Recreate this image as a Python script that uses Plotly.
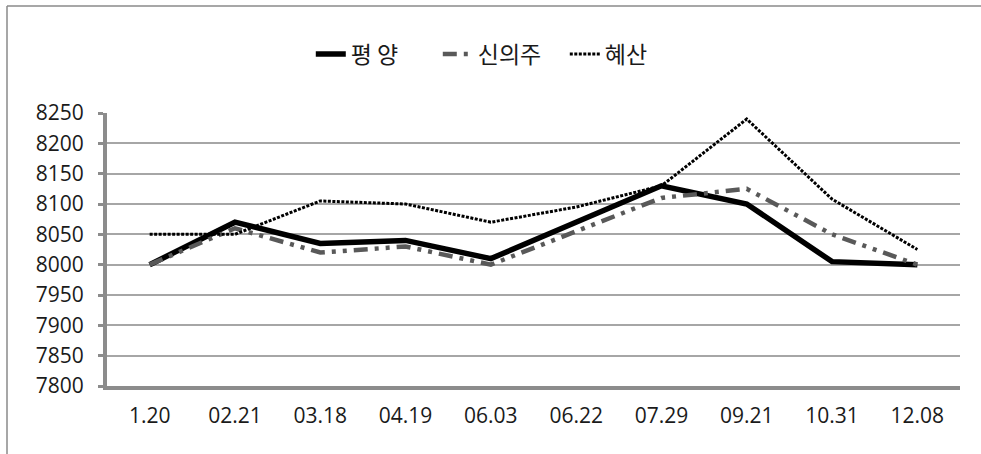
import plotly.graph_objects as go

categories = ["1.20", "02.21", "03.18", "04.19", "06.03", "06.22", "07.29", "09.21", "10.31", "12.08"]
pyongyang = [8000, 8070, 8035, 8040, 8010, 8070, 8130, 8100, 8005, 8000]
sinuiju = [8000, 8060, 8020, 8030, 8000, 8055, 8110, 8125, 8050, 8000]
hyesan = [8050, 8050, 8105, 8100, 8070, 8095, 8130, 8240, 8108, 8025]
y_ticks = [7800, 7850, 7900, 7950, 8000, 8050, 8100, 8150, 8200, 8250]

FONT = "Open Sans, Noto Sans CJK KR"
KFONT = "Noto Sans CJK KR"
FS = 21

fig = go.Figure()
fig.add_trace(go.Scatter(x=categories, y=pyongyang, name="평 양", mode="lines",
                         line=dict(color="#000000", width=5.5)))
fig.add_trace(go.Scatter(x=categories, y=sinuiju, name="신의주", mode="lines",
                         line=dict(color="#595959", width=4.5, dash="14px,7px,4px,7px,4px,7px")))
fig.add_trace(go.Scatter(x=categories, y=hyesan, name="혜산", mode="lines",
                         line=dict(color="#000000", width=3, dash="3px,1.5px")))

fig.update_layout(
    width=981, height=454,
    margin=dict(l=107, r=21, t=113, b=68),
    paper_bgcolor="white", plot_bgcolor="white",
    font=dict(family=FONT, size=FS, color="#1a1a1a"),
    showlegend=True,
    legend=dict(orientation="h", xref="container", x=0.511, xanchor="center",
                yref="container", y=1 - 54 / 454, yanchor="middle",
                font=dict(family=KFONT, size=23, color="#1a1a1a"),
                itemwidth=30, tracegroupgap=0, entrywidth=82, entrywidthmode="pixels"),
    xaxis=dict(type="category", range=[-0.5, 9.5], showgrid=False,
               showline=True, linecolor="#8c8c8c", linewidth=4,
               ticks="", ticklabelstandoff=8,
               tickfont=dict(family=FONT, size=FS, color="#1a1a1a")),
    yaxis=dict(range=[7800, 8250], tickvals=y_ticks, showgrid=True,
               gridcolor="#a6a6a6", gridwidth=1.5, zeroline=False,
               showline=True, linecolor="#8c8c8c", linewidth=4,
               ticks="outside", ticklen=5, tickwidth=3, tickcolor="#8c8c8c",
               ticklabelstandoff=10,
               tickfont=dict(family=FONT, size=FS, color="#1a1a1a")),
    shapes=[
        dict(type="line", xref="paper", yref="paper",
             x0=(7 - 107) / 853, x1=1.1, y0=(386 - 6) / 273, y1=(386 - 6) / 273,
             line=dict(color="#8a8a8a", width=1.5)),
        dict(type="line", xref="paper", yref="paper",
             x0=(7 - 107) / 853, x1=(7 - 107) / 853, y0=(386 - 6) / 273, y1=-0.5,
             line=dict(color="#8a8a8a", width=1.5)),
    ],
)

fig.write_html("out.html")
